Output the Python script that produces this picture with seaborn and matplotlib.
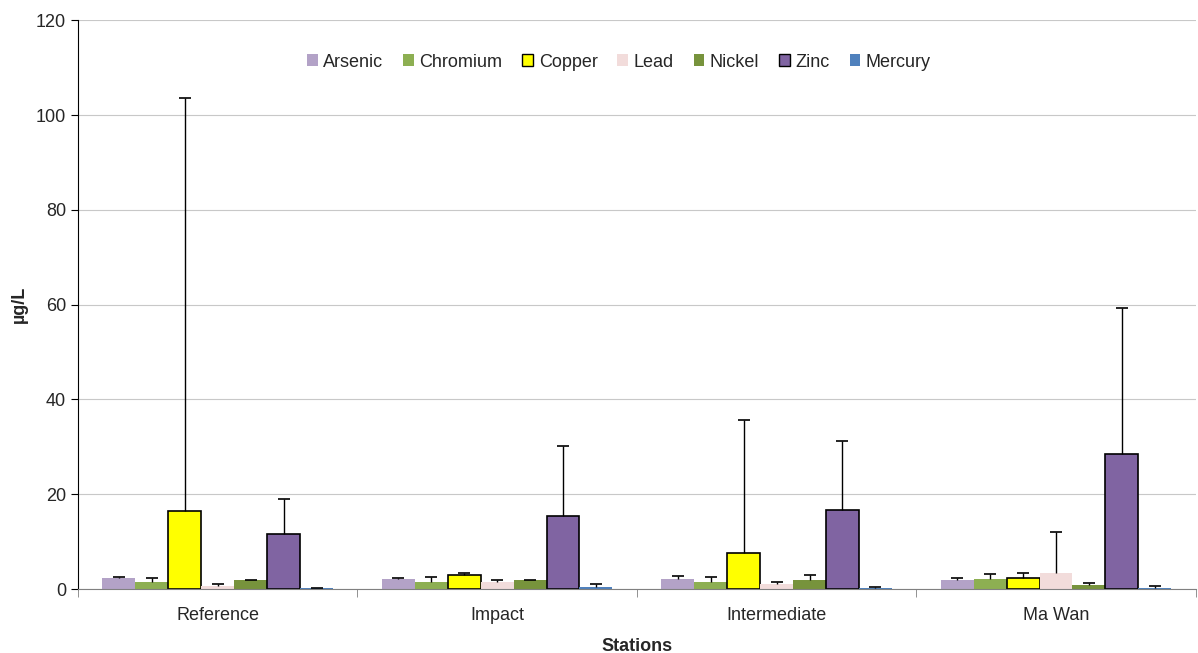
import matplotlib
matplotlib.use("Agg")
import matplotlib.pyplot as plt
import seaborn as sns
import pandas as pd
import numpy as np

stations = ["Reference", "Impact", "Intermediate", "Ma Wan"]
metals = ["Arsenic", "Chromium", "Copper", "Lead", "Nickel", "Zinc", "Mercury"]

arsenic = [2.4, 2.2, 2.2, 2.0]
chromium = [1.5, 1.5, 1.5, 2.2]
copper = [16.5, 2.9, 7.5, 2.3]
lead = [0.7, 1.4, 1.0, 3.4]
nickel = [1.8, 1.8, 1.9, 0.9]
zinc = [11.5, 15.3, 16.7, 28.4]
mercury = [0.2, 0.4, 0.15, 0.3]

arsenic_top = [2.6, 2.4, 2.8, 2.4]
chromium_top = [2.4, 2.5, 2.6, 3.1]
copper_top = [103.5, 3.4, 35.7, 3.4]
lead_top = [1.0, 2.0, 1.5, 12.1]
nickel_top = [1.9, 2.0, 2.9, 1.2]
zinc_top = [19.0, 30.2, 31.3, 59.2]
mercury_top = [0.3, 1.0, 0.5, 0.7]

colors = ["#B3A2C7", "#8DAF52", "#FFFF00", "#F2DCDB", "#77933C", "#8064A2", "#4F81BD"]
edges = ["none", "none", "black", "none", "none", "black", "none"]

means = [arsenic, chromium, copper, lead, nickel, zinc, mercury]
tops = [arsenic_top, chromium_top, copper_top, lead_top, nickel_top, zinc_top, mercury_top]

rows = []
for m, vals in zip(metals, means):
    for s, v in zip(stations, vals):
        rows.append({"Station": s, "Metal": m, "Value": v})
df = pd.DataFrame(rows)

sns.set_style("white")
plt.rcParams["font.family"] = ["Liberation Sans", "DejaVu Sans"]

fig = plt.figure(figsize=(11.98, 6.53), dpi=100)
ax = fig.add_axes([0.0651, 0.098, 0.933, 0.871])

sns.barplot(data=df, x="Station", y="Value", hue="Metal", order=stations,
            hue_order=metals, palette=colors, errorbar=None, width=0.825,
            ax=ax, saturation=1, legend=False)

bar_containers = list(ax.containers)
for i, cont in enumerate(bar_containers):
    xs, ys = [], []
    for p in cont.patches:
        p.set_edgecolor(edges[i])
        p.set_linewidth(1.2 if edges[i] != "none" else 0)
        xs.append(p.get_x() + p.get_width() / 2)
        ys.append(p.get_height())
    ys = np.array(ys)
    tp = np.array(tops[i])
    up = tp - ys
    ax.errorbar(xs, ys, yerr=[np.zeros_like(up), up], fmt="none",
                ecolor="black", elinewidth=1, capsize=0, zorder=5)
    ax.plot(xs, tp, linestyle="none", marker="_", markersize=8,
            markeredgewidth=1.2, color="black", zorder=6)

ax.set_ylim(0, 120)
ax.set_xlim(-0.5, 3.5)
ax.set_yticks(np.arange(0, 121, 20))
ax.yaxis.grid(True, color="#C8C8C8", linewidth=0.8)
ax.set_axisbelow(True)
ax.tick_params(axis="y", labelsize=13, length=5, direction="out", left=True, color="black")
ax.tick_params(axis="x", labelsize=13, length=0, pad=13)
ax.set_xticks(np.arange(-0.5, 3.6, 1), minor=True)
ax.tick_params(axis="x", which="minor", length=6, bottom=True, color="#808080")

for sp in ["top", "right"]:
    ax.spines[sp].set_visible(False)
ax.spines["left"].set_color("black")
ax.spines["bottom"].set_color("#808080")

ax.set_ylabel("µg/L", fontsize=13, fontweight="bold", labelpad=6)
ax.set_xlabel("Stations", fontsize=13, fontweight="bold", labelpad=10)

from matplotlib.patches import Patch
handles = [Patch(facecolor=c, edgecolor=("black" if e != "none" else c), linewidth=1 if e != "none" else 0)
           for c, e in zip(colors, edges)]
ax.legend(handles, metals, loc="upper center", bbox_to_anchor=(0.484, 0.97), ncol=7,
          frameon=False, fontsize=13, handlelength=0.6, handleheight=0.6,
          handletextpad=0.3, columnspacing=1.1)

fig.savefig("out.png", dpi=100)
